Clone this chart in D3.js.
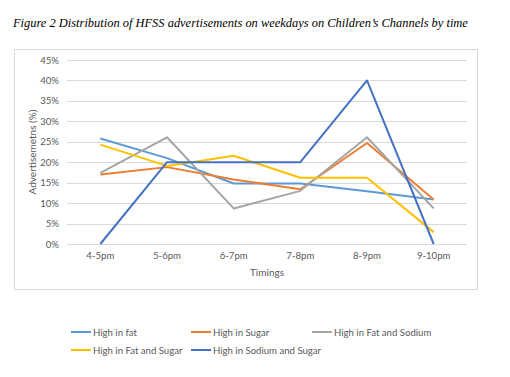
<!DOCTYPE html>
<html><head><meta charset="utf-8">
<script src="https://cdn.jsdelivr.net/npm/d3@7/dist/d3.min.js"></script>
<style>body{margin:0;background:#fff}svg{display:block}</style>
</head><body><svg id="c" width="510" height="377"></svg>
<script>
const categories = ["4-5pm","5-6pm","6-7pm","7-8pm","8-9pm","9-10pm"];
const seriesNames = ["High in fat","High in Sugar","High in Fat and Sodium","High in Fat and Sugar","High in Sodium and Sugar"];
const highFat = [25.8, 21.0, 14.8, 14.8, 12.9, 10.9];
const highSugar = [17.0, 18.8, 15.8, 13.4, 24.7, 10.9];
const highFatSodium = [17.4, 26.1, 8.7, 13.0, 26.1, 8.7];
const highFatSugar = [24.3, 19.1, 21.6, 16.2, 16.2, 2.9];
const highSodiumSugar = [0, 20, 20, 20, 40, 0];
const yTicks = [0,5,10,15,20,25,30,35,40,45];
const colors = ["#5B9BD5","#ED7D31","#A5A5A5","#FFC000","#4472C4"];
const allSeries = [highFat, highSugar, highFatSodium, highFatSugar, highSodiumSugar];

const svg = d3.select("#c");
const font = "Lato, 'Open Sans', sans-serif";

svg.append("text").attr("x",13).attr("y",27)
  .attr("font-family","'Liberation Serif','Times New Roman',serif")
  .attr("font-style","italic").attr("font-size",12.45).attr("fill","#000")
  .text("Figure 2 Distribution of HFSS advertisements on weekdays on Children’s Channels by time");

svg.append("rect").attr("x",14.5).attr("y",49.5).attr("width",463).attr("height",240)
  .attr("fill","none").attr("stroke","#d9d9d9").attr("stroke-width",1);

const x = d3.scaleBand().domain(categories).range([67,467]);
const y = d3.scaleLinear().domain([0,45]).range([244,60]);

svg.append("g").selectAll("line").data(yTicks).enter().append("line")
  .attr("x1",67).attr("x2",467)
  .attr("y1",d=>Math.round(y(d))+0.5).attr("y2",d=>Math.round(y(d))+0.5)
  .attr("stroke","#d9d9d9").attr("stroke-width",1);

const yAxis = d3.axisLeft(y).tickValues(yTicks).tickSize(0).tickPadding(8).tickFormat(d=>d+"%");
const ya = svg.append("g").attr("transform","translate(67,0)").call(yAxis);
ya.select(".domain").remove();
ya.selectAll("text").attr("font-family",font).attr("font-size",9.6).attr("fill","#595959");

const xAxis = d3.axisBottom(x).tickSize(0).tickPadding(8);
const xa = svg.append("g").attr("transform","translate(0,244)").call(xAxis);
xa.select(".domain").remove();
xa.selectAll("text").attr("font-family",font).attr("font-size",9.6).attr("fill","#595959");

svg.append("text").attr("x",267).attr("y",276).attr("text-anchor","middle")
  .attr("font-family",font).attr("font-size",10).attr("fill","#595959").text("Timings");
svg.append("text").attr("transform","translate(36,152) rotate(-90)").attr("text-anchor","middle")
  .attr("font-family",font).attr("font-size",10).attr("fill","#595959").text("Advertisemetns (%)");

const line = d3.line().x((d,i)=>x(categories[i])+x.bandwidth()/2).y(d=>y(d));
allSeries.forEach((s,k)=>{
  svg.append("path").datum(s).attr("d",line).attr("fill","none")
    .attr("stroke",colors[k]).attr("stroke-width",2).attr("stroke-linejoin","round");
});

const legendPos = [[71,332],[191,332],[312,332],[71,350],[191,350]];
seriesNames.forEach((n,k)=>{
  const [lx,ly] = legendPos[k];
  svg.append("line").attr("x1",lx).attr("x2",lx+20).attr("y1",ly).attr("y2",ly)
    .attr("stroke",colors[k]).attr("stroke-width",2);
  svg.append("text").attr("x",lx+22).attr("y",ly+3.5).attr("font-family",font)
    .attr("font-size",9.6).attr("fill","#595959").text(n);
});
</script></body></html>
